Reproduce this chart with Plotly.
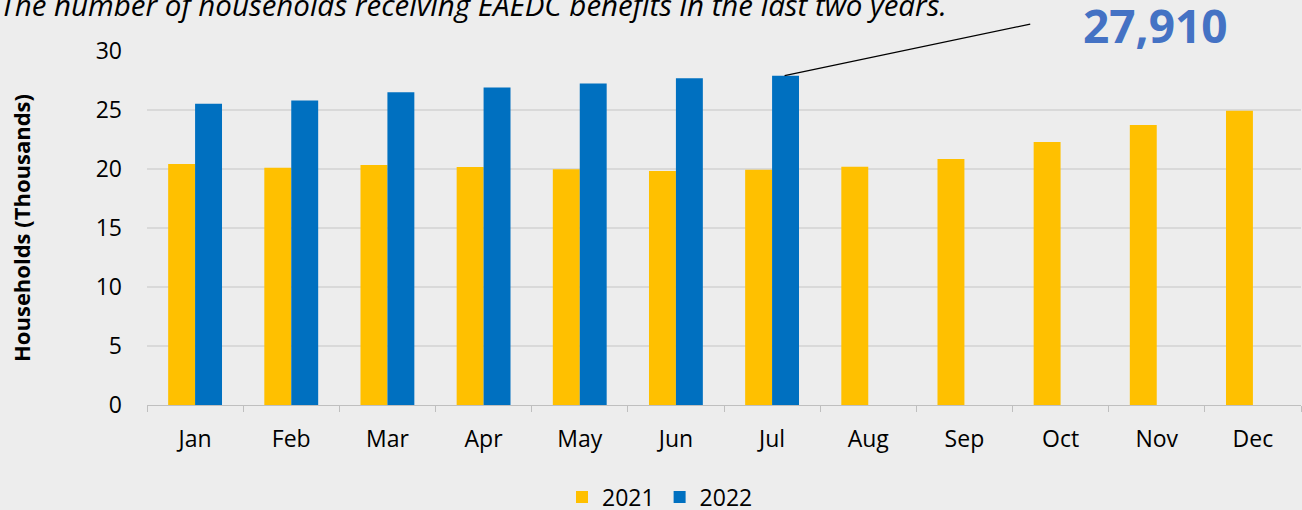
import plotly.graph_objects as go

months = ["Jan", "Feb", "Mar", "Apr", "May", "Jun", "Jul", "Aug", "Sep", "Oct", "Nov", "Dec"]
hh_2021 = [20.42, 20.10, 20.34, 20.17, 19.97, 19.83, 19.94, 20.20, 20.85, 22.29, 23.73, 24.94]
hh_2022 = [25.53, 25.80, 26.50, 26.90, 27.25, 27.70, 27.91]
y_ticks = [0, 5, 10, 15, 20, 25, 30]

FONT = "Open Sans"
W, H = 1302, 510
ML, MR, MT, MB = 147, 1, 51, 105
PW, PH = W - ML - MR, H - MT - MB

fig = go.Figure()
fig.add_trace(go.Bar(x=months, y=hh_2021, name="2021", marker=dict(color="#FFC000", line=dict(width=0))))
fig.add_trace(go.Bar(x=months[:len(hh_2022)], y=hh_2022, name="2022", marker=dict(color="#0070C0", line=dict(width=0))))

last_idx = len(hh_2022) - 1
last_val = hh_2022[last_idx]

# leader line from last 2022 bar to label
fig.add_annotation(x=last_idx + 0.13, y=last_val, ax=8.70, ay=32.3, axref="x", ayref="y",
                   xref="x", yref="y", text="", showarrow=True, arrowhead=0, arrowwidth=1.2,
                   arrowcolor="#000000")
fig.add_annotation(x=8.70, y=32.3, ax=8.83, ay=32.3, axref="x", ayref="y",
                   xref="x", yref="y", text="", showarrow=True, arrowhead=0, arrowwidth=1.2,
                   arrowcolor="#000000")
fig.add_annotation(x=(1155 - ML) / PW, y=(H - MB - 25) / PH, xref="paper", yref="paper",
                   xanchor="center", yanchor="middle",
                   text=f"<b>{last_val*1000:,.0f}</b>",
                   showarrow=False, font=dict(family=FONT, size=46, color="#4472C4"))

fig.update_layout(
    width=W, height=H,
    paper_bgcolor="#EDEDED", plot_bgcolor="#EDEDED",
    margin=dict(l=ML, r=MR, t=MT, b=MB),
    barmode="group", bargap=0.44, bargroupgap=0,
    font=dict(family=FONT, size=23, color="#000000"),
    title=dict(text="<i>The number of households receiving EAEDC benefits in the last two years.</i>",
               xref="container", yref="container", x=0, xanchor="left", y=1 - 6 / H, yanchor="middle",
               font=dict(family=FONT, size=29.5, color="#000000")),
    legend=dict(orientation="h", xref="container", yref="container", x=660 / W, xanchor="center",
                y=1 - 497 / H, yanchor="middle", font=dict(size=23), traceorder="normal"),
    xaxis=dict(showline=True, linecolor="#BFBFBF", linewidth=1, ticks="outside", tickson="boundaries",
               ticklen=6, tickcolor="#BFBFBF", showgrid=False, tickfont=dict(size=23),
               ticklabelstandoff=13),
    yaxis=dict(range=[0, 30], tickvals=y_ticks, showgrid=True, gridcolor="#D9D9D9", gridwidth=2,
               zeroline=False, showline=False, ticks="", tickfont=dict(size=23),
               ticklabelstandoff=24,
               title=dict(text="<b>Households (Thousands)</b>", font=dict(size=22), standoff=58)),
)
fig.write_html("out.html", config={"displayModeBar": False},
               post_script="document.body.style.margin='0';document.body.style.overflow='hidden';")
